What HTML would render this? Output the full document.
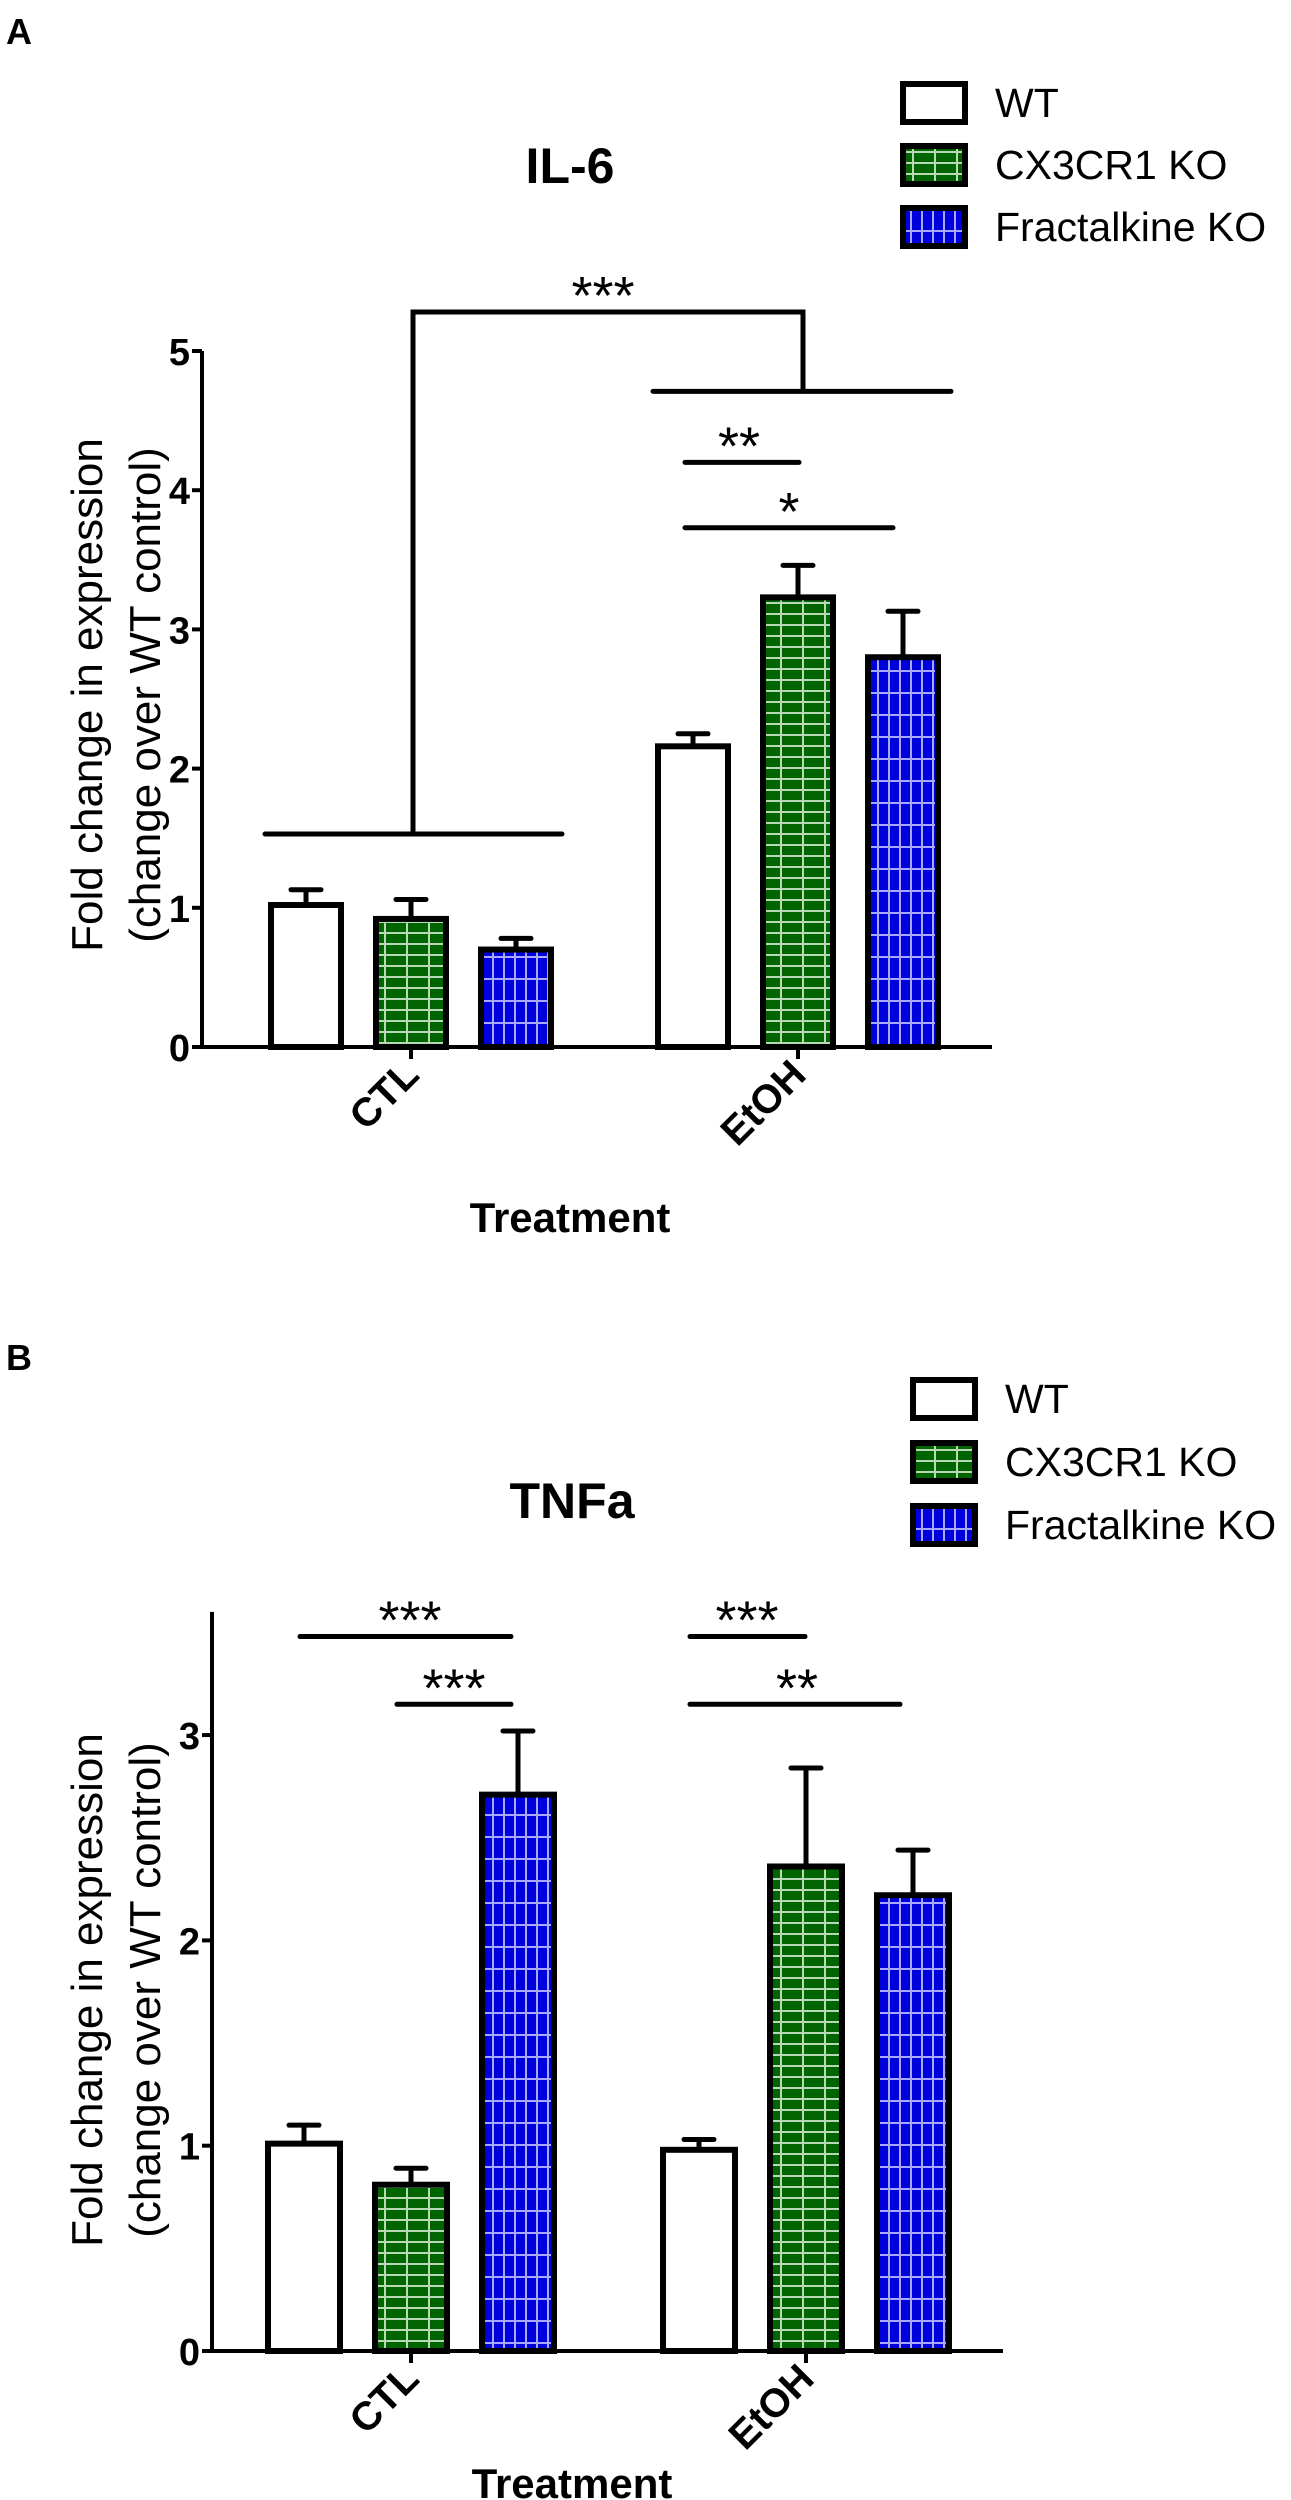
<!DOCTYPE html>
<html><head><meta charset="utf-8"><style>
html,body{margin:0;padding:0;background:#fff;}
svg{display:block;font-family:"Liberation Sans",Arial,sans-serif;}
</style></head><body>
<svg id="fig" width="1291" height="2500" viewBox="0 0 1291 2500" xmlns="http://www.w3.org/2000/svg">
<defs>
<pattern id="pg" patternUnits="userSpaceOnUse" width="22" height="11">
<rect width="22" height="11" fill="#006400"/>
<rect x="0" y="8" width="22" height="2" fill="#b8d8b8"/>
<rect x="10" y="0" width="2" height="11" fill="#b8d8b8"/>
</pattern>
<pattern id="pb" patternUnits="userSpaceOnUse" width="11" height="22">
<rect width="11" height="22" fill="#0000dd"/>
<rect x="8" y="0" width="2" height="22" fill="#a8a8ff"/>
<rect x="0" y="10" width="11" height="2" fill="#a8a8ff"/>
</pattern>
</defs>
<g id="root"></g>
</svg>
<script>
const groups = ["CTL","EtOH"];
const seriesNames = ["WT","CX3CR1 KO","Fractalkine KO"];
const il6Means = [[1.02,0.92,0.70],[2.16,3.23,2.80]];
const il6Errs = [[1.13,1.06,0.78],[2.25,3.46,3.13]];
const il6Ticks = [0,1,2,3,4,5];
const tnfMeans = [[1.01,0.81,2.71],[0.98,2.36,2.22]];
const tnfErrs = [[1.10,0.89,3.02],[1.03,2.84,2.44]];
const tnfTicks = [0,1,2,3];

const NS="http://www.w3.org/2000/svg";
const root=document.getElementById('root');
function mk(tag,attrs,parent){const e=document.createElementNS(NS,tag);for(const k in attrs)e.setAttribute(k,attrs[k]);(parent||root).appendChild(e);return e;}
const fills=["#fff","url(#pg)","url(#pb)"];

function chart(cfg){
  const g=mk('g',{});
  
  
  const y=v=>cfg.y0-(v-0)*cfg.unit;
  const barX=(gi,si)=>cfg.x0+gi*cfg.gstep+si*cfg.bstep;
  let t=mk('text',{x:cfg.letterX,y:cfg.letterY,'font-size':36,'font-weight':'bold'},g);t.textContent=cfg.letter;
  
  
  t=mk('text',{x:cfg.titleX,y:cfg.titleY,'font-size':50,'font-weight':'bold','text-anchor':'middle'},g);t.textContent=cfg.title;
  
  
  seriesNames.forEach((n,i)=>{
    const ly=cfg.legY+i*cfg.legStep;
    const r=mk('rect',{x:cfg.legX,y:ly-18,width:62,height:38,fill:fills[i],stroke:'#000','stroke-width':6},g);
    
    
    const lt=mk('text',{x:cfg.legX+92,y:ly+15,'font-size':41},g);lt.textContent=n;
    
    
  });
  const ax=mk('path',{d:`M${cfg.axX} ${y(cfg.yTop)} V${cfg.y0} H${cfg.axEnd}`,stroke:'#000','stroke-width':4,fill:'none'},g);
  
  
  cfg.ticks.forEach(v=>{
    mk('line',{x1:cfg.axX-10,x2:cfg.axX,y1:y(v),y2:y(v),stroke:'#000','stroke-width':4},g);
    const tl=mk('text',{x:cfg.axX-12,y:y(v)+14,'font-size':38,'font-weight':'bold','text-anchor':'end'},g);tl.textContent=v;
    
    
  });
  const yl=mk('text',{transform:`translate(${cfg.ylX},${cfg.ylY}) rotate(-90)`,'font-size':44,'text-anchor':'middle'},g);
  
  
  const s1=mk('tspan',{x:0,y:0},yl);s1.textContent='Fold change in expression';
  const s2=mk('tspan',{x:0,y:58},yl);s2.textContent='(change over WT control)';
  groups.forEach((gn,gi)=>{
    const cx=barX(gi,1)+cfg.bw/2;
    mk('line',{x1:cx,x2:cx,y1:cfg.y0,y2:cfg.y0+12,stroke:'#000','stroke-width':4},g);
    const cl=mk('text',{transform:`translate(${cx+10},${cfg.y0+30}) rotate(-45)`,'font-size':40,'font-weight':'bold','text-anchor':'end'},g);cl.textContent=gn;
    
    
    seriesNames.forEach((sn,si)=>{
      const x=barX(gi,si), m=cfg.means[gi][si], e=cfg.errs[gi][si];
      const bc=x+cfg.bw/2;
      const el=mk('path',{d:`M${bc} ${y(m)} V${y(e)} M${bc-15} ${y(e)} H${bc+15}`,stroke:'#000','stroke-width':5,'stroke-linecap':'round',fill:'none'},g);
      
      
      const b=mk('rect',{x:x,y:y(m),width:cfg.bw,height:cfg.y0-y(m),fill:fills[si],stroke:'#000','stroke-width':6},g);
      
      
    });
  });
  const xl=mk('text',{x:cfg.xlX,y:cfg.xlY,'font-size':42,'font-weight':'bold','text-anchor':'middle'},g);xl.textContent='Treatment';
  
  
  cfg.sig.forEach(s=>{
    const p=mk('path',{d:s.d(y),stroke:'#000','stroke-width':5,'stroke-linecap':'round',fill:'none'},g);
    
    
    const st=mk('text',{x:s.tx,y:s.ty(y),'font-size':54,'text-anchor':'middle'},g);st.textContent=s.label;
    
    
  });
}

chart({name:'il6-chart',letter:'A',letterX:6,letterY:44,title:'IL-6',titleX:570,titleY:183,
  legX:903,legY:102,legStep:62,axX:202,axEnd:992,y0:1047,unit:139.2,yTop:5,ticks:il6Ticks,
  ylX:102,ylY:695,x0:271,gstep:387,bstep:105,bw:70,means:il6Means,errs:il6Errs,xlX:570,xlY:1232,
  sig:[
   {d:y=>`M265 ${y(1.53)} H562 M413 ${y(1.53)} V${y(5.28)} H803 V${y(4.71)} M653 ${y(4.71)} H951`,tx:603,ty:y=>y(5.28)+2,label:'***'},
   {d:y=>`M685 ${y(4.2)} H799`,tx:739,ty:y=>y(4.2)+2,label:'**'},
   {d:y=>`M685 ${y(3.73)} H893`,tx:789,ty:y=>y(3.73)+2,label:'*'}
  ]});
chart({name:'tnfa-chart',letter:'B',letterX:6,letterY:1370,title:'TNFa',titleX:572,titleY:1518,
  legX:913,legY:1398,legStep:63,axX:212,axEnd:1003,y0:2351,unit:205.3,yTop:3.6,ticks:tnfTicks,
  ylX:102,ylY:1990,x0:268,gstep:395,bstep:107,bw:72,means:tnfMeans,errs:tnfErrs,xlX:572,xlY:2498,
  sig:[
   {d:y=>`M300 ${y(3.48)} H511`,tx:410,ty:y=>y(3.48)+2,label:'***'},
   {d:y=>`M397 ${y(3.15)} H511`,tx:454,ty:y=>y(3.15)+2,label:'***'},
   {d:y=>`M690 ${y(3.48)} H805`,tx:747,ty:y=>y(3.48)+2,label:'***'},
   {d:y=>`M690 ${y(3.15)} H900`,tx:797,ty:y=>y(3.15)+2,label:'**'}
  ]});
</script>
</body></html>
